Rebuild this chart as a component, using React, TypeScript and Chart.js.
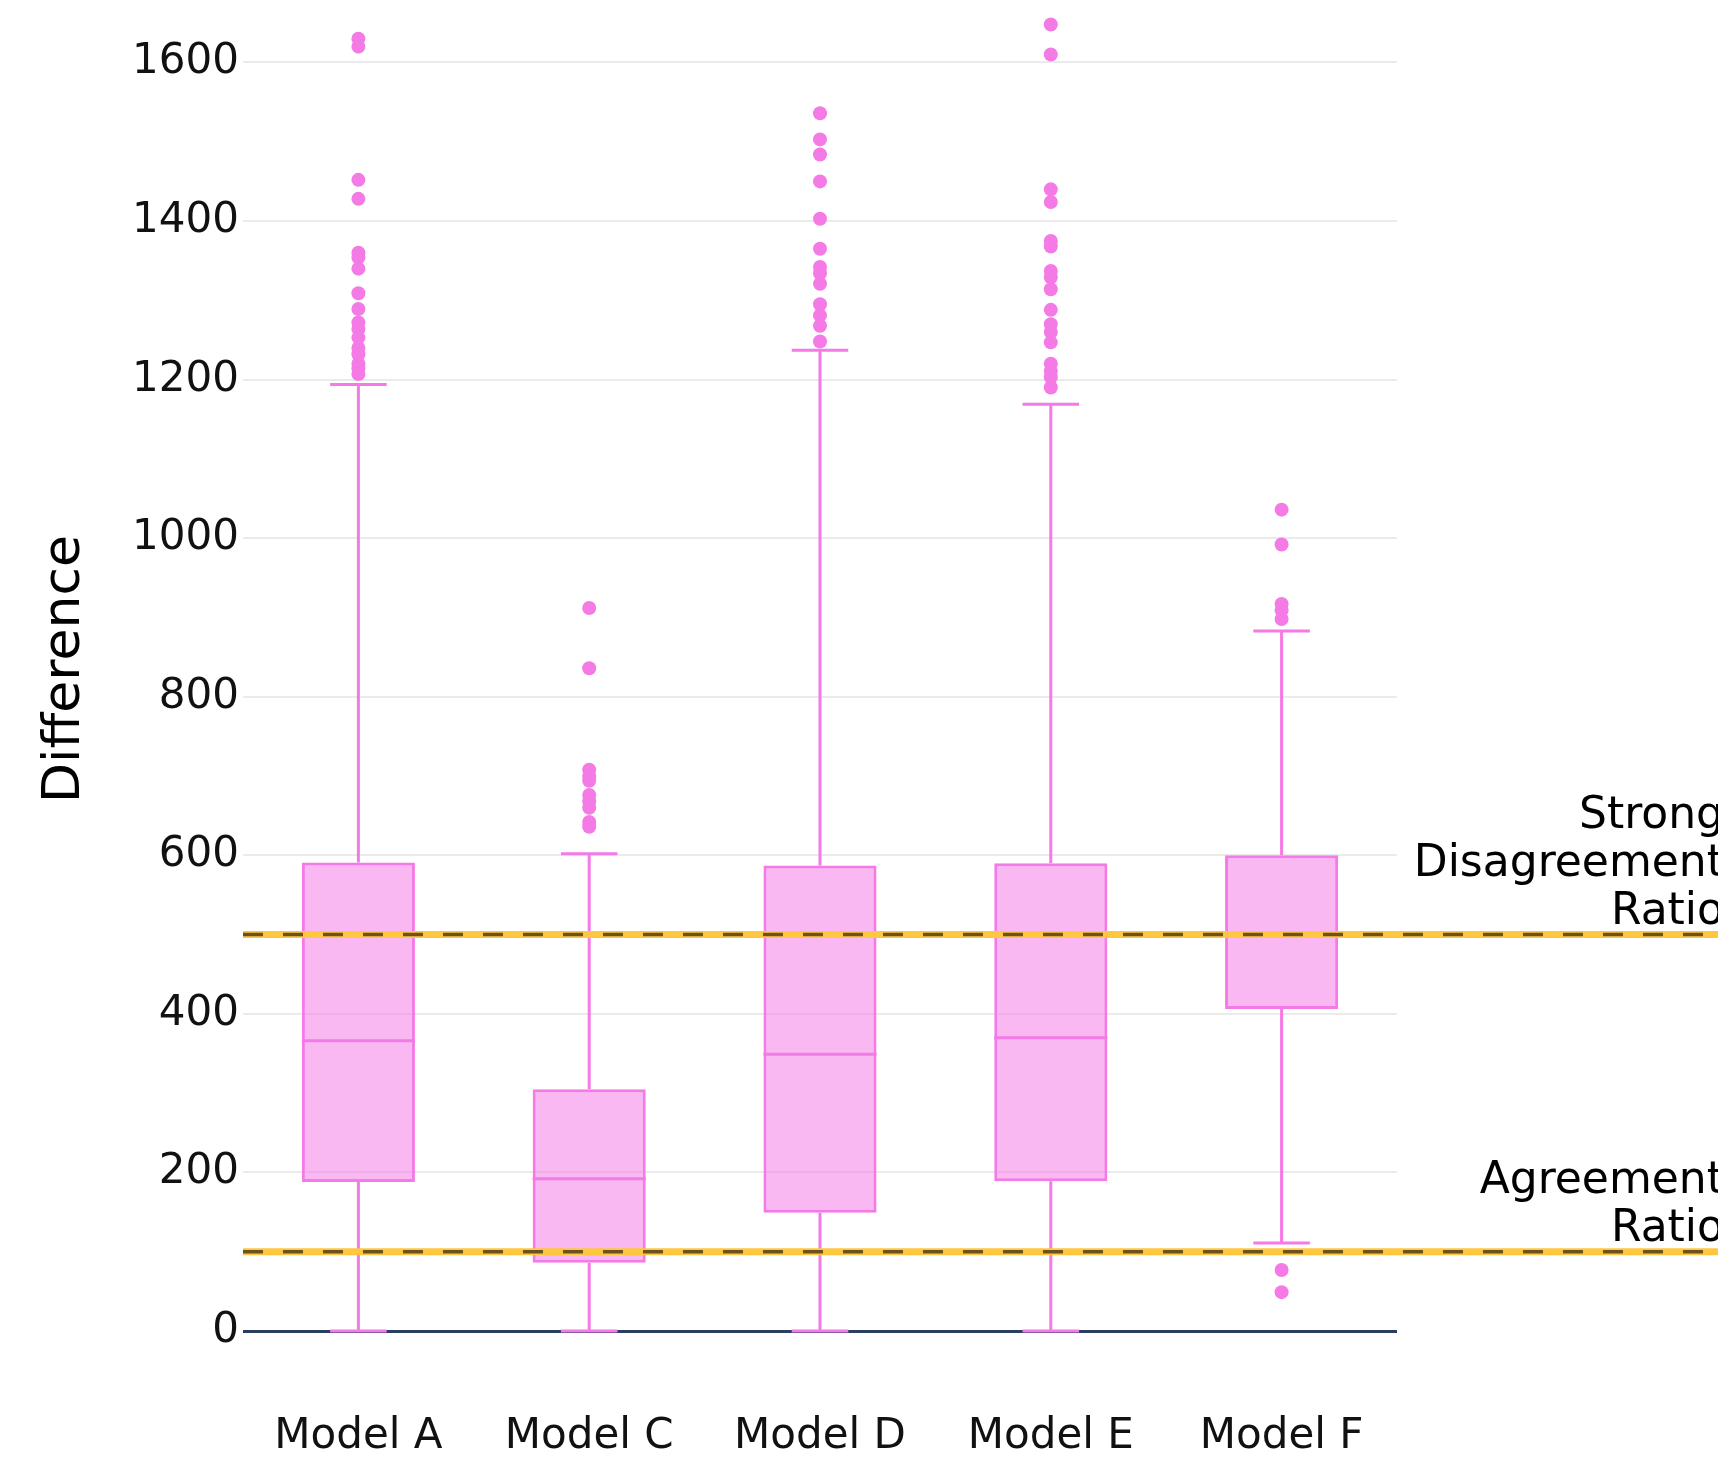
import React, { useEffect, useRef } from "react";
import { Chart, registerables } from "chart.js";

Chart.register(...registerables);

const categories = ["Model A", "Model C", "Model D", "Model E", "Model F"];
const q1 = [188, 86, 149, 189, 406];
const median = [366, 192, 349, 370, 501];
const q3 = [591, 305, 587, 590, 600];
const lowerWhisker = [0, 0, 0, 0, 111];
const upperWhisker = [1194, 602, 1237, 1169, 883];
const outliersA = [1630, 1620, 1452, 1428, 1360, 1354, 1340, 1309, 1289, 1272, 1264, 1253, 1240, 1232, 1220, 1214, 1207];
const outliersC = [912, 836, 708, 700, 694, 676, 668, 660, 642, 636];
const outliersD = [1536, 1503, 1484, 1450, 1403, 1365, 1342, 1334, 1321, 1295, 1281, 1268, 1248];
const outliersE = [1648, 1610, 1440, 1424, 1375, 1368, 1337, 1329, 1314, 1288, 1270, 1260, 1247, 1220, 1211, 1203, 1190];
const outliersF = [1036, 992, 917, 909, 898, 77, 49];
const refLines = [500, 100];
const refLabels = [["Strong", "Disagreement", "Ratio"], ["Agreement", "Ratio"]];
const yTicks = [0, 200, 400, 600, 800, 1000, 1200, 1400, 1600];

const FONT = "'DejaVu Sans', Verdana, sans-serif";
const PINK = "#F47AE6";
const PINK_FILL = "rgba(244,118,228,0.52)";

const boxPlugin = {
  id: "boxParts",
  afterDatasetsDraw(chart: any) {
    const { ctx, scales } = chart;
    const x = scales.x;
    const y = scales.y;
    const boxMeta = chart.getDatasetMeta(0);
    ctx.save();
    ctx.strokeStyle = PINK;
    ctx.lineWidth = 3;
    categories.forEach((_, i) => {
      const bar = boxMeta.data[i];
      const half = bar.width / 2;
      const cx = x.getPixelForValue(i);
      const capHalf = half / 2;
      ctx.beginPath();
      ctx.moveTo(cx - half, y.getPixelForValue(median[i]));
      ctx.lineTo(cx + half, y.getPixelForValue(median[i]));
      ctx.stroke();
      ctx.beginPath();
      ctx.moveTo(cx, y.getPixelForValue(q3[i]));
      ctx.lineTo(cx, y.getPixelForValue(upperWhisker[i]));
      ctx.moveTo(cx - capHalf, y.getPixelForValue(upperWhisker[i]));
      ctx.lineTo(cx + capHalf, y.getPixelForValue(upperWhisker[i]));
      ctx.moveTo(cx, y.getPixelForValue(q1[i]));
      ctx.lineTo(cx, y.getPixelForValue(lowerWhisker[i]));
      ctx.moveTo(cx - capHalf, y.getPixelForValue(lowerWhisker[i]));
      ctx.lineTo(cx + capHalf, y.getPixelForValue(lowerWhisker[i]));
      ctx.stroke();
    });
    ctx.restore();
  },
  afterDraw(chart: any) {
    const { ctx, scales, chartArea, width } = chart;
    const y = scales.y;
    ctx.save();
    refLines.forEach((v, k) => {
      const py = y.getPixelForValue(v);
      ctx.beginPath();
      ctx.strokeStyle = "#FFC640";
      ctx.lineWidth = 7;
      ctx.moveTo(chartArea.left, py);
      ctx.lineTo(width, py);
      ctx.stroke();
      ctx.beginPath();
      ctx.setLineDash([20, 20]);
      ctx.strokeStyle = "rgba(0,0,0,0.58)";
      ctx.lineWidth = 3.5;
      ctx.moveTo(chartArea.left, py);
      ctx.lineTo(width, py);
      ctx.stroke();
      ctx.setLineDash([]);
      const lines = refLabels[k];
      ctx.fillStyle = "#000";
      ctx.font = `44px ${FONT}`;
      ctx.textAlign = "right";
      ctx.textBaseline = "alphabetic";
      lines.forEach((t, j) => {
        const ly = py - 11 - (lines.length - 1 - j) * 48;
        ctx.fillText(t, width + 6, ly);
      });
    });
    ctx.restore();
  },
};

function toPoints(label: string, vals: number[]) {
  return vals.map((v) => ({ x: label, y: v }));
}

export default function App() {
  const ref = useRef<HTMLCanvasElement | null>(null);
  useEffect(() => {
    document.body.style.margin = "0";
    const canvas = ref.current!;
    const outliers = [
      ...toPoints(categories[0], outliersA),
      ...toPoints(categories[1], outliersC),
      ...toPoints(categories[2], outliersD),
      ...toPoints(categories[3], outliersE),
      ...toPoints(categories[4], outliersF),
    ];
    const chart = new Chart(canvas, {
      type: "bar",
      data: {
        labels: categories,
        datasets: [
          {
            type: "bar",
            label: "box",
            data: categories.map((_, i) => [q1[i], q3[i]]) as any,
            backgroundColor: PINK_FILL,
            borderColor: PINK,
            borderWidth: 3,
            borderSkipped: false,
            barPercentage: 0.49,
            categoryPercentage: 1,
          },
          {
            type: "scatter",
            label: "outliers",
            data: outliers as any,
            backgroundColor: PINK,
            borderWidth: 0,
            pointRadius: 7,
            showLine: false,
          } as any,
        ],
      },
      options: {
        animation: false,
        responsive: false,
        maintainAspectRatio: false,
        layout: { padding: { left: 0, right: 321, top: 0, bottom: 0 } },
        plugins: {
          legend: { display: false },
          tooltip: { enabled: false },
        },
        scales: {
          x: {
            type: "category",
            offset: true,
            grid: { display: false, drawTicks: false },
            border: { display: false },
            ticks: {
              color: "#111",
              font: { family: FONT, size: 42 },
              padding: 81,
              maxRotation: 0,
              autoSkip: false,
            },
            afterFit(scale: any) {
              scale.height = 127;
              scale.paddingLeft = 0;
              scale.paddingRight = 0;
            },
          },
          y: {
            type: "linear",
            min: 0,
            max: 1670,
            afterBuildTicks(scale: any) {
              scale.ticks = yTicks.map((v) => ({ value: v }));
            },
            grid: {
              drawTicks: false,
              color: (c: any) => (c.tick && c.tick.value === 0 ? "#2A3F5F" : "#EBEBEB"),
              lineWidth: (c: any) => (c.tick && c.tick.value === 0 ? 3 : 2),
            },
            border: { display: false },
            ticks: {
              color: "#111",
              font: { family: FONT, size: 42 },
              padding: 4,
              callback: (v: any) => String(v),
            },
            title: {
              display: true,
              text: "Difference",
              color: "#000",
              font: { family: FONT, size: 52 },
              padding: { top: 34, bottom: 0 },
            },
            afterFit(scale: any) {
              scale.width = 243;
              scale.paddingTop = 0;
              scale.paddingBottom = 0;
            },
          },
        },
      },
      plugins: [boxPlugin],
    });
    return () => chart.destroy();
  }, []);
  return (
    <div style={{ width: 1718, height: 1458 }}>
      <canvas ref={ref} width={1718} height={1458} style={{ display: "block" }} />
    </div>
  );
}
